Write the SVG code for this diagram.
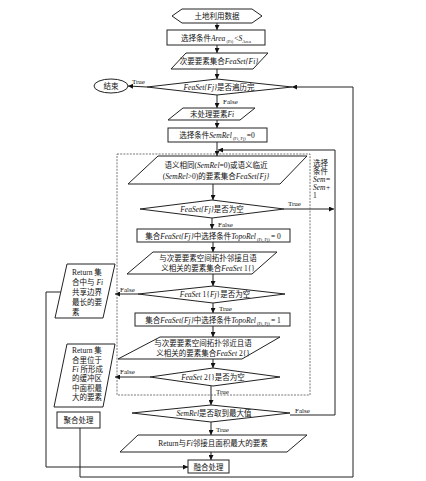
<svg xmlns="http://www.w3.org/2000/svg" width="426" height="481" viewBox="0 0 426 481">
<style>
.s{fill:#fff;stroke:#222;stroke-width:1}
.c{fill:none;stroke:#222;stroke-width:1}
.d{fill:none;stroke:#555;stroke-width:0.8;stroke-dasharray:2,1.2}
text{font-family:"Liberation Serif","Noto Sans CJK SC",serif;font-size:7.5px;fill:#111}
.m{text-anchor:middle}
.l{font-size:7px}
.i{font-style:italic}
.b{font-size:4.5px}
</style>
<defs>
<marker id="a" viewBox="0 0 10 10" refX="10" refY="5" markerWidth="5" markerHeight="5" orient="auto" markerUnits="userSpaceOnUse">
<path d="M0,0L10,5L0,10z" fill="#111"/>
</marker>
</defs>
<g id="connectors">
<line class="c" x1="217" y1="23" x2="217" y2="30" marker-end="url(#a)"/>
<line class="c" x1="217" y1="45" x2="217" y2="53" marker-end="url(#a)"/>
<line class="c" x1="217" y1="69" x2="217" y2="79" marker-end="url(#a)"/>
<line class="c" x1="147" y1="87" x2="128" y2="86" marker-end="url(#a)"/>
<text class="l" x="132" y="84">True</text>
<line class="c" x1="217" y1="95" x2="217" y2="108" marker-end="url(#a)"/>
<text class="l" x="223" y="104">False</text>
<line class="c" x1="217" y1="120" x2="217" y2="128" marker-end="url(#a)"/>
<line class="c" x1="217" y1="142" x2="217" y2="156" marker-end="url(#a)"/>
<line class="c" x1="213" y1="184" x2="213" y2="200" marker-end="url(#a)"/>
<line class="c" x1="284" y1="209" x2="334" y2="209" marker-end="url(#a)"/>
<text class="l" x="288" y="206">True</text>
<line class="c" x1="212" y1="218" x2="212" y2="229" marker-end="url(#a)"/>
<text class="l" x="218" y="227">False</text>
<line class="c" x1="213" y1="242" x2="213" y2="252" marker-end="url(#a)"/>
<line class="c" x1="213" y1="274" x2="213" y2="286" marker-end="url(#a)"/>
<line class="c" x1="138" y1="294" x2="115" y2="294" marker-end="url(#a)"/>
<text class="l" x="120" y="292">False</text>
<line class="c" x1="213" y1="303" x2="213" y2="313" marker-end="url(#a)"/>
<text class="l" x="219" y="311">True</text>
<line class="c" x1="213" y1="326" x2="213" y2="337" marker-end="url(#a)"/>
<line class="c" x1="213" y1="359" x2="213" y2="368" marker-end="url(#a)"/>
<line class="c" x1="150" y1="377" x2="115" y2="377" marker-end="url(#a)"/>
<text class="l" x="120" y="374">False</text>
<line class="c" x1="211" y1="386" x2="211" y2="405" marker-end="url(#a)"/>
<text class="l" x="216" y="394">True</text>
<line class="c" x1="211" y1="422" x2="211" y2="435" marker-end="url(#a)"/>
<text class="l" x="216" y="432">True</text>
<polyline class="c" points="290,415 335,415 335,150 218,150" marker-end="url(#a)"/>
<text class="l" x="295" y="413">False</text>
<line class="c" x1="211" y1="452" x2="211" y2="460" marker-end="url(#a)"/>
<polyline class="c" points="61,292 46,292 46,467 188,467" marker-end="url(#a)"/>
<polyline class="c" points="80,428 80,477 353,477 353,87 292,87" marker-end="url(#a)"/>
</g>
<g id="start">
<polygon class="s" points="172,16 182,9 252,9 262,16 252,23 182,23"/>
<text class="m" x="217" y="19">土地利用数据</text>
</g>
<g id="area">
<rect class="s" x="167" y="30" width="98" height="15"/>
<text class="m" x="216" y="41">选择条件<tspan class="i">Area</tspan><tspan class="b" dy="1.5"> (Fi) </tspan><tspan dy="-1.5">&lt;</tspan><tspan class="i">S</tspan><tspan class="b" dy="1.5">Area</tspan></text>
</g>
<g id="feaset">
<polygon class="s" points="186,53 268,53 253,69 171,69"/>
<text class="m" x="219" y="64">次要要素集合<tspan class="i">FeaSet{Fi}</tspan></text>
</g>
<g id="traverse">
<polygon class="s" points="147,87 217,79 292,87 217,95"/>
<text class="m" x="219" y="90"><tspan class="i">FeaSet{Fj}</tspan>是否遍历完</text>
</g>
<g id="end">
<ellipse class="s" cx="111" cy="86" rx="17" ry="7"/>
<text class="m" x="111" y="89">结束</text>
</g>
<g id="unprocessed">
<polygon class="s" points="183,108 255,108 240,120 168,120"/>
<text class="m" x="212" y="117">未处理要素<tspan class="i">Fi</tspan></text>
</g>
<g id="semrel0">
<rect class="s" x="168" y="128" width="99" height="14"/>
<text class="m" x="217" y="138">选择条件<tspan class="i">SemRel</tspan><tspan class="b" dy="1.5"> (Fi, Fj) </tspan><tspan dy="-1.5">=0</tspan></text>
</g>
<g id="loopbox">
<rect class="d" x="117" y="154" width="193" height="241"/>
<text x="313" y="166">选择</text>
<text x="313" y="174">条件</text>
<text class="i" x="313" y="182">Sem=</text>
<text class="i" x="313" y="190">Sem+</text>
<text x="313" y="198">1</text>
</g>
<g id="semantic">
<polygon class="s" points="158,156 307,156 280,184 128,184"/>
<text class="m" x="216" y="168">语义相同(<tspan class="i">SemRel</tspan>=0)或语义临近</text>
<text class="m" x="216" y="179">(<tspan class="i">SemRel</tspan>&gt;0)的要素集合<tspan class="i">FeaSet{Fj}</tspan></text>
</g>
<g id="empty0">
<polygon class="s" points="140,209 212,200 284,209 212,218"/>
<text class="m" x="212" y="212"><tspan class="i">FeaSet{Fj}</tspan>是否为空</text>
</g>
<g id="topo0">
<rect class="s" x="137" y="229" width="153" height="13"/>
<text class="m" x="213" y="239">集合<tspan class="i">FeaSet{Fj}</tspan>中选择条件<tspan class="i">TopoRel</tspan><tspan class="b" dy="1.5"> (Fi, Fj) </tspan><tspan dy="-1.5">= 0</tspan></text>
</g>
<g id="feaset1">
<polygon class="s" points="153,252 277,252 252,274 127,274"/>
<text class="m" x="208" y="261">与次要要素空间拓扑邻接且语</text>
<text class="m" x="208" y="271">义相关的要素集合<tspan class="i">FeaSet</tspan> 1{}</text>
</g>
<g id="empty1">
<polygon class="s" points="138,294 213,286 285,294 213,303"/>
<text class="m" x="215" y="297"><tspan class="i">FeaSet</tspan> 1{<tspan class="i">Fj</tspan>}是否为空</text>
</g>
<g id="topo1">
<rect class="s" x="135" y="313" width="155" height="13"/>
<text class="m" x="213" y="323">集合<tspan class="i">FeaSet{Fj}</tspan>中选择条件<tspan class="i">TopoRel</tspan><tspan class="b" dy="1.5"> (Fi, Fj) </tspan><tspan dy="-1.5">= 1</tspan></text>
</g>
<g id="feaset2">
<polygon class="s" points="160,337 280,337 242,359 118,359"/>
<text class="m" x="203" y="346">与次要要素空间拓扑邻近且语</text>
<text class="m" x="203" y="356">义相关的要素集合<tspan class="i">FeaSet</tspan> 2{}</text>
</g>
<g id="empty2">
<polygon class="s" points="150,377 213,368 280,377 213,386"/>
<text class="m" x="213" y="380"><tspan class="i">FeaSet</tspan> 2{}是否为空</text>
</g>
<g id="semmax">
<polygon class="s" points="132,413 211,405 290,413 211,422"/>
<text class="m" x="214" y="416"><tspan class="i">SemRel</tspan>是否取到最大值</text>
</g>
<g id="returnmax">
<polygon class="s" points="138,435 307,435 287,452 120,452"/>
<text class="m" x="213" y="446">Return与<tspan class="i">Fi</tspan>邻接且面积最大的要素</text>
</g>
<g id="fusion">
<rect class="s" x="188" y="460" width="41" height="13"/>
<text class="m" x="208.5" y="469.5">融合处理</text>
</g>
<g id="return1">
<polygon class="s" points="67,264 115,264 103,318 55,318"/>
<text x="72" y="275">Return 集</text>
<text x="72" y="285">合中与 <tspan class="i">Fi</tspan></text>
<text x="72" y="295">共享边界</text>
<text x="72" y="305">最长的要</text>
<text x="72" y="315">素</text>
</g>
<g id="return2">
<polygon class="s" points="67,344 115,344 103,407 54,407"/>
<text x="72" y="353">Return 集</text>
<text x="72" y="363">合里位于</text>
<text x="72" y="372"><tspan class="i">Fi</tspan> 所形成</text>
<text x="72" y="381">的缓冲区</text>
<text x="72" y="391">中面积最</text>
<text x="72" y="400">大的要素</text>
</g>
<g id="aggregate">
<rect class="s" x="57" y="412" width="43" height="16"/>
<text class="m" x="78.5" y="423">聚合处理</text>
</g>
</svg>
